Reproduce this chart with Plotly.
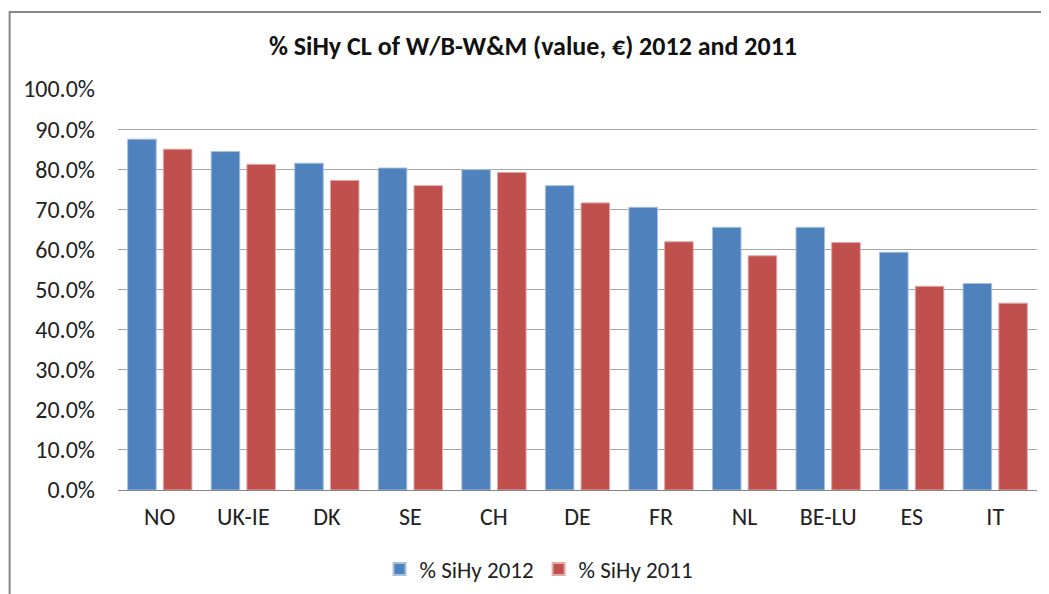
import plotly.graph_objects as go

categories = ["NO", "UK-IE", "DK", "SE", "CH", "DE", "FR", "NL", "BE-LU", "ES", "IT"]
sihy_2012 = [0.875, 0.844, 0.815, 0.803, 0.799, 0.759, 0.705, 0.655, 0.655, 0.593, 0.515]
sihy_2011 = [0.850, 0.812, 0.772, 0.759, 0.792, 0.716, 0.619, 0.584, 0.617, 0.508, 0.466]
series_names = ["% SiHy 2012", "% SiHy 2011"]
y_ticks = [i / 10 for i in range(11)]

FONT = "Carlito, Open Sans, sans-serif"
W, H = 1049, 594
OFF = 8  # page body margin
# target pixel geometry (in window coords), converted to figure coords
L = 117.5 - OFF
R = W - (1037.5 - OFF)
T = 89 - OFF
B = H - (490 - OFF)
pw, ph = W - L - R, H - T - B

def px_x(x):
    return (x - OFF - L) / pw

def px_y(y):
    return (H - B - (y - OFF)) / ph

fig = go.Figure()
fig.add_trace(go.Bar(x=categories, y=sihy_2012, name=series_names[0],
                     marker=dict(color="#4F81BD", line=dict(color="#A7C0DE", width=1))))
fig.add_trace(go.Bar(x=categories, y=sihy_2011, name=series_names[1],
                     marker=dict(color="#C0504D", line=dict(color="#E0A8A6", width=1))))

fig.update_layout(
    width=W, height=H,
    margin=dict(l=L, r=R, t=T, b=B, autoexpand=False),
    paper_bgcolor="white", plot_bgcolor="white",
    barmode="group", bargap=0.145, bargroupgap=0.2,
    font=dict(family=FONT, color="#222222"),
    title=dict(text="<b>% SiHy CL of W/B-W&M (value, €) 2012 and 2011</b>",
               x=(533 - OFF) / W, xanchor="center", y=1 - (46 - OFF) / H, yanchor="middle",
               font=dict(size=26, family=FONT, color="#111111")),
    legend=dict(orientation="h", x=px_x(539), xanchor="center", y=px_y(569), yanchor="middle",
                font=dict(size=23, family=FONT, color="#222222"), itemsizing="constant",
                traceorder="normal"),
    showlegend=True,
    xaxis=dict(showgrid=False, showline=False, ticks="", tickfont=dict(size=24, family=FONT, color="#222222"),
               ticklabelstandoff=10),
    yaxis=dict(range=[0, 1], tickvals=y_ticks, tickformat=".1%", showgrid=True,
               gridcolor="#A6A6A6", gridwidth=1, zeroline=True, zerolinecolor="#868686", zerolinewidth=1,
               showline=False, ticks="", ticklabelstandoff=22,
               tickfont=dict(size=24, family=FONT, color="#222222")),
    shapes=[dict(type="rect", xref="paper", yref="paper",
                 x0=px_x(9), x1=px_x(1070), y0=px_y(620), y1=px_y(12),
                 line=dict(color="#878787", width=2), fillcolor="rgba(0,0,0,0)", layer="below")],
)

fig.write_html("out.html")
